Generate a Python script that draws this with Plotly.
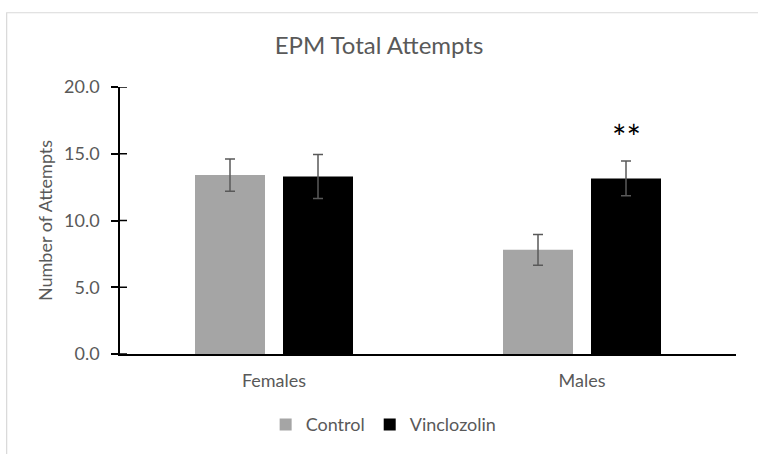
import plotly.graph_objects as go

categories = ["Females", "Males"]
control = [13.4, 7.8]
control_err = [1.2, 1.15]
vinclozolin = [13.3, 13.15]
vinclozolin_err = [1.65, 1.3]
y_ticks = [0, 5, 10, 15, 20]
y_ticklabels = ["0.0", "5.0", "10.0", "15.0", "20.0"]

FONT = "Lato, sans-serif"
TXT = "#595959"

fig = go.Figure()
fig.add_trace(go.Bar(
    name="Control", x=categories, y=control,
    marker=dict(color="#A5A5A5", line=dict(width=0)),
    error_y=dict(type="data", array=control_err, color="#595959", thickness=1.5, width=5),
))
fig.add_trace(go.Bar(
    name="Vinclozolin", x=categories, y=vinclozolin,
    marker=dict(color="#000000", line=dict(width=0)),
    error_y=dict(type="data", array=vinclozolin_err, color="#595959", thickness=1.5, width=5),
))

fig.add_annotation(
    x="Males", y=vinclozolin[1] + vinclozolin_err[1], xref="x", yref="y",
    text="**", showarrow=False, xshift=44, yshift=2, yanchor="bottom",
    font=dict(family=FONT, size=34, color="#000000"),
)

# chart area border
fig.add_shape(type="rect", xref="paper", yref="paper",
              x0=-0.184, x1=1.2, y0=-0.6, y1=1.278,
              line=dict(color="#D9D9D9", width=1.2), fillcolor="rgba(0,0,0,0)", layer="below")
# x axis extension to the left of the y axis
fig.add_shape(type="line", xref="paper", yref="paper",
              x0=-0.012, x1=0, y0=0, y1=0,
              line=dict(color="#000000", width=1.5))
# inner half of the crossing y tick marks
for t in y_ticks:
    fig.add_shape(type="line", xref="paper", yref="y",
                  x0=0, x1=7 / 616, y0=t, y1=t,
                  line=dict(color="#000000", width=1.5))

fig.update_layout(
    width=758, height=454,
    margin=dict(l=120, r=22, t=87, b=99),
    paper_bgcolor="white", plot_bgcolor="white",
    barmode="group", bargap=0.4286, bargroupgap=0.2045,
    title=dict(text="EPM Total Attempts", x=0.5, xref="container", xanchor="center",
               y=1 - 46 / 454, yref="container", yanchor="middle",
               font=dict(family=FONT, size=24, color=TXT)),
    font=dict(family=FONT, color=TXT),
    showlegend=True,
    legend=dict(orientation="h", x=0.428, xanchor="center", y=-0.26, yanchor="middle",
                font=dict(family=FONT, size=18, color=TXT), traceorder="normal"),
    xaxis=dict(showline=True, linecolor="#000000", linewidth=1.5, ticks="",
               ticklabelstandoff=10,
               tickfont=dict(family=FONT, size=18, color=TXT), showgrid=False),
    yaxis=dict(range=[0, 20], tickvals=y_ticks, ticktext=y_ticklabels,
               showline=True, linecolor="#000000", linewidth=1.5,
               ticks="outside", ticklen=7, tickcolor="#000000", tickwidth=1.5,
               ticklabelstandoff=8,
               showgrid=False, zeroline=False,
               tickfont=dict(family=FONT, size=18, color=TXT),
               title=dict(text="Number of Attempts", standoff=7,
                          font=dict(family=FONT, size=18, color=TXT))),
)

fig.write_html("out.html", config={"displayModeBar": False},
               post_script="document.body.style.margin='0px';")
